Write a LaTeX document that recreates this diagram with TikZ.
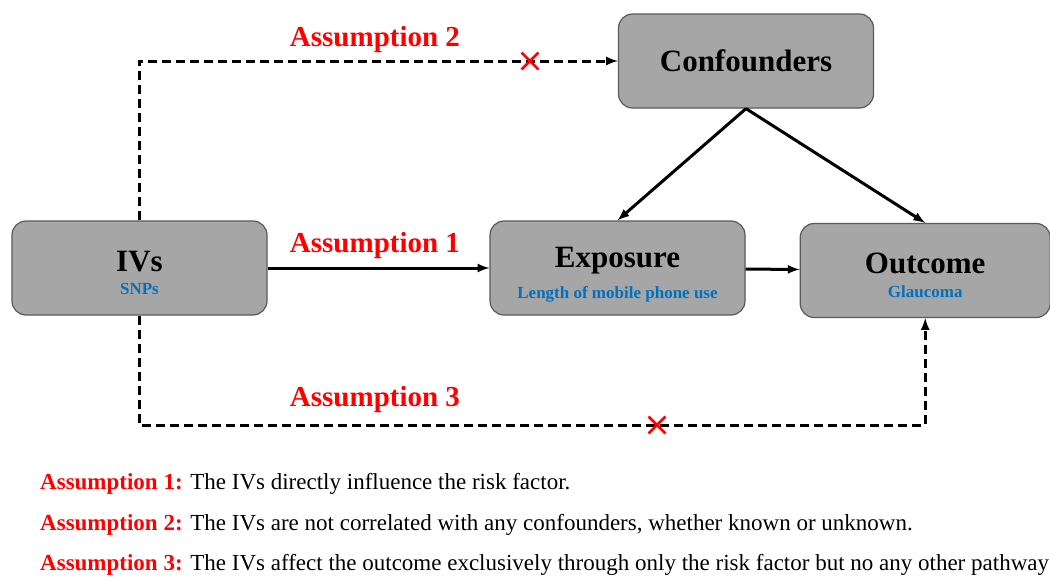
\documentclass[tikz,border=0pt]{standalone}
\usepackage{fontspec}
\setmainfont{Liberation Serif}
\usetikzlibrary{shapes,arrows,positioning,calc}
\definecolor{boxgray}{HTML}{A6A6A6}
\definecolor{boxline}{HTML}{5A5A5A}
\definecolor{subblue}{HTML}{0070C0}
\definecolor{asred}{HTML}{FF0000}
\newcommand{\factorlabel}[2]{{\fontsize{31}{34}\selectfont\rule{0pt}{34pt}#1}\\[11pt]{\fontsize{17}{19}\selectfont\color{subblue}#2\vphantom{gp}}}

\begin{document}
\begin{tikzpicture}[x=1pt, y=-1pt, node distance=478pt,
    factor/.style={rectangle, rounded corners=14pt, draw=boxline, line width=1.2pt, fill=boxgray,
        minimum width=255pt, minimum height=94pt, align=center, font=\bfseries},
    flow/.style={line width=3pt, -latex},
    hidden/.style={line width=3pt, dash pattern=on 9pt off 5pt, -latex},
    assume/.style={text=asred, font=\fontsize{29}{32}\selectfont\bfseries},
    cross/.style={cross out, draw=asred, line width=2.8pt, minimum size=14pt, inner sep=0pt},
    note/.style={anchor=base west, inner sep=0pt, font=\fontsize{23}{26}\selectfont}]
    \useasboundingbox (0,0) rectangle (1050,576);

    \node[factor] (ivs) at (139.5,268) {\factorlabel{IVs}{SNPs}};
    \node[factor, right of=ivs] (exposure) {\factorlabel{Exposure}{Length of mobile phone use}};
    \node[factor, minimum width=250pt, right=54pt of exposure, yshift=-2.5pt] (outcome) {\factorlabel{Outcome}{Glaucoma}};
    \node[factor, font=\fontsize{31}{34}\selectfont\bfseries] (conf) at (746,61) {Confounders};

    \draw[flow] (ivs) -- (exposure);
    \draw[flow] (exposure) -- (outcome);
    \draw[flow] (conf.south) -- (exposure.north);
    \draw[flow] (conf.south) -- (outcome.north);

    % violated paths
    \coordinate (low) at (0,425);
    \draw[hidden] (ivs.north) |- (conf.west);
    \draw[hidden] (ivs.south) |- (low -| outcome.south) -- (outcome.south);
    \node[cross] (x2) at (530,61) {};
    \node[cross] (x3) at (657,425) {};

    \node[assume] (a2) at (375,40) {Assumption 2};
    \node[assume] (a1) at (375,246) {Assumption 1};
    \node[assume] (a3) at (375,400) {Assumption 3};

    \node[note] (n1) at (40,489) {\textcolor{asred}{\textbf{Assumption 1:}} The IVs directly influence the risk factor.};
    \node[note] (n2) at (40,530) {\textcolor{asred}{\textbf{Assumption 2:}} The IVs are not correlated with any confounders, whether known or unknown.};
    \node[note] (n3) at (40,570) {\textcolor{asred}{\textbf{Assumption 3:}} The IVs affect the outcome exclusively through only the risk factor but no any other pathway};
\end{tikzpicture}
\end{document}
